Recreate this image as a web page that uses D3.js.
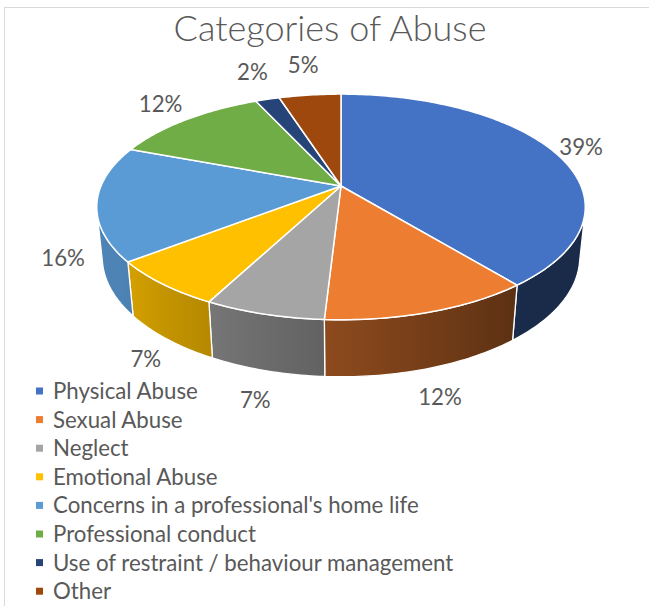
<!DOCTYPE html>
<html>
<head>
<meta charset="utf-8">
<script src="https://cdn.jsdelivr.net/npm/d3@7"></script>
<style>
  body { margin: 0; background: #fff; }
  text { font-family: Lato, "Open Sans", sans-serif; fill: #595959; }
</style>
</head>
<body>
<script>
// Categories of Abuse - 3D pie (Excel style), drawn with d3

const categories = [
    'Physical Abuse',
    'Sexual Abuse',
    'Neglect',
    'Emotional Abuse',
    "Concerns in a professional's home life",
    'Professional conduct',
    'Use of restraint / behaviour management',
    'Other'
];
const shares = [39.2, 11.7, 6.7, 6.8, 16.4, 12.4, 1.9, 4.9];
const palette = ['#4472C4', '#ED7D31', '#A5A5A5', '#FFC000', '#5B9BD5', '#70AD47', '#264478', '#9E480E'];

const width = 649, height = 606;

const svg = d3.select('body').append('svg')
    .attr('width', width)
    .attr('height', height);

// chart area border
svg.append('rect')
    .attr('x', 4.5).attr('y', 7.5)
    .attr('width', 720).attr('height', 720)
    .attr('fill', '#fff')
    .attr('stroke', '#d9d9d9');

const colour = d3.scaleOrdinal().domain(categories).range(palette);

// simple perspective camera for the tilted disc
const view = {
    cx: 341, cy: 186,   // projected centre of the top face
    rPx: 240,           // radius in px at the disc centre depth
    dist: 4.8,          // camera distance (in radii)
    tilt: 27 * Math.PI / 180,
    thick: 0.237        // pie thickness (in radii)
};

function project(theta, rho, h) {
    const u = rho * Math.sin(theta);
    const v = -rho * Math.cos(theta);
    const z = view.dist - v * Math.cos(view.tilt) - h * Math.sin(view.tilt);
    const s = view.rPx * view.dist / z;
    return [view.cx + u * s, view.cy + (v * Math.sin(view.tilt) - h * Math.cos(view.tilt)) * s];
}

function rim(a0, a1, h) {
    const n = Math.max(2, Math.ceil((a1 - a0) / (Math.PI / 180)));
    return d3.range(n + 1).map(k => project(a0 + (a1 - a0) * k / n, 1, h));
}

// wall shading: darker towards the right
function shade(c, theta) {
    const deg = theta * 180 / Math.PI;
    const t = Math.max(0, Math.min(1, (deg - 140) / 95));
    const f = 0.38 + 0.47 * t;
    const rgb = d3.rgb(c);
    return d3.rgb(rgb.r * f, rgb.g * f, rgb.b * f).formatHex();
}

const arcs = d3.pie().sort(null).value(d => d)(shares);
const total = d3.sum(shares);
const pct = d3.format('.0%');
const line = d3.line();

const defs = svg.append('defs');
const wallG = svg.append('g');
const topG = svg.append('g');

// visible part of the outer wall
const lim = Math.acos(-1 / (view.dist * Math.cos(view.tilt)));

arcs.forEach((d, i) => {
    const a = Math.max(d.startAngle, lim);
    const b = Math.min(d.endAngle, 2 * Math.PI - lim);
    if (b <= a) return;

    const x1 = project(a, 1, 0)[0];
    const x2 = project(b, 1, 0)[0];
    const grad = defs.append('linearGradient')
        .attr('id', 'wall' + i)
        .attr('gradientUnits', 'userSpaceOnUse')
        .attr('x1', x1).attr('x2', x2)
        .attr('y1', 0).attr('y2', 0);
    d3.range(11).forEach(k => {
        const th = a + (b - a) * k / 10;
        const xk = project(th, 1, 0)[0];
        grad.append('stop')
            .attr('offset', Math.max(0, Math.min(1, (xk - x1) / (x2 - x1))))
            .attr('stop-color', shade(colour(categories[i]), th));
    });

    const pts = rim(a, b, 0).concat(rim(a, b, -view.thick).reverse());
    wallG.append('path')
        .attr('d', line(pts) + 'Z')
        .attr('fill', `url(#wall${i})`)
        .attr('stroke', '#fff')
        .attr('stroke-width', 1.3)
        .attr('stroke-linejoin', 'round');
});

arcs.forEach((d, i) => {
    const pts = [project(0, 0, 0)].concat(rim(d.startAngle, d.endAngle, 0));
    topG.append('path')
        .attr('d', line(pts) + 'Z')
        .attr('fill', colour(categories[i]))
        .attr('stroke', '#fff')
        .attr('stroke-width', 1.5)
        .attr('stroke-linejoin', 'round');
});

// bounding box of the whole pie
const outline = rim(0, 2 * Math.PI, 0).concat(rim(0, 2 * Math.PI, -view.thick));
const bx = d3.extent(outline, p => p[0]);
const by = d3.extent(outline, p => p[1]);
const bc = [(bx[0] + bx[1]) / 2, (by[0] + by[1]) / 2];
const hw = (bx[1] - bx[0]) / 2, hh = (by[1] - by[0]) / 2;

// legend font size fitted to the longest entry
const probe = svg.append('text').attr('font-size', 20).text(categories[4]);
const legendSize = 20 * 366 / probe.node().getComputedTextLength();
probe.remove();

// data labels, outside end
arcs.forEach((d, i) => {
    const mid = (d.startAngle + d.endAngle) / 2;
    const h = Math.cos(mid) < 0 ? -view.thick : -view.thick * 0.2;
    const p = project(mid, 1, h);
    const phi = Math.atan2((p[0] - bc[0]) / hw, -(p[1] - bc[1]) / hh);
    svg.append('text')
        .attr('x', bc[0] + (hw + 36) * Math.sin(phi))
        .attr('y', bc[1] - (hh + 31) * Math.cos(phi))
        .attr('dy', '0.36em')
        .attr('text-anchor', 'middle')
        .attr('font-size', legendSize)
        .text(pct(d.value / total));
});

// title
const title = svg.append('text')
    .attr('x', 330)
    .attr('y', 41)
    .attr('text-anchor', 'middle')
    .attr('font-size', 30)
    .attr('font-weight', 300)
    .text('Categories of Abuse');
title.attr('font-size', 30 * 313 / title.node().getComputedTextLength());

// legend
const legend = svg.append('g').attr('transform', 'translate(36, 391)');
const items = legend.selectAll('g')
    .data(categories)
    .enter()
    .append('g')
    .attr('transform', (d, i) => `translate(0, ${i * 28.6})`);

items.append('rect')
    .attr('x', 0).attr('y', -3.5)
    .attr('width', 7).attr('height', 7)
    .attr('fill', d => colour(d));

items.append('text')
    .attr('x', 17)
    .attr('dy', '0.36em')
    .attr('font-size', legendSize)
    .text(d => d);
</script>
</body>
</html>
